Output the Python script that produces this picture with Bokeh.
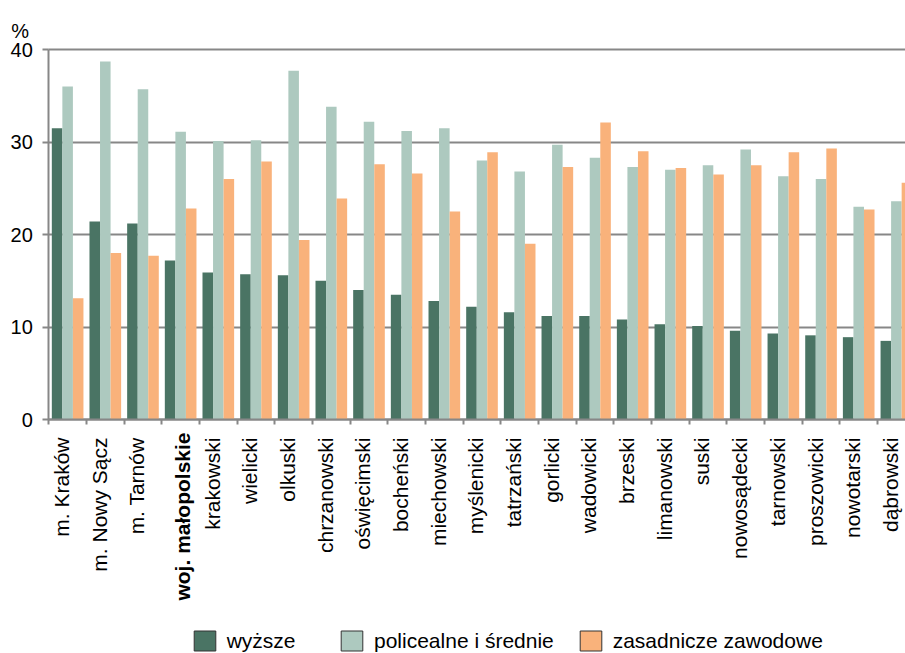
import math
import numpy as np
from bokeh.plotting import figure
from bokeh.models import (Range1d, FixedTicker, Label, Legend, LegendItem, Grid)
from bokeh.embed import file_html
from bokeh.resources import INLINE

# ---- data ----
categories = ["m. Kraków", "m. Nowy Sącz", "m. Tarnów", "woj. małopolskie", "krakowski",
              "wielicki", "olkuski", "chrzanowski", "oświęcimski", "bocheński", "miechowski",
              "myślenicki", "tatrzański", "gorlicki", "wadowicki", "brzeski", "limanowski",
              "suski", "nowosądecki", "tarnowski", "proszowicki", "nowotarski", "dąbrowski"]
bold_category = "woj. małopolskie"
wyzsze = [31.5, 21.4, 21.2, 17.2, 15.9, 15.7, 15.6, 15.0, 14.0, 13.5, 12.8, 12.2,
          11.6, 11.2, 11.2, 10.8, 10.3, 10.1, 9.6, 9.3, 9.1, 8.9, 8.5]
policealne = [36.0, 38.7, 35.7, 31.1, 30.1, 30.2, 37.7, 33.8, 32.2, 31.2, 31.5, 28.0,
              26.8, 29.7, 28.3, 27.3, 27.0, 27.5, 29.2, 26.3, 26.0, 23.0, 23.6]
zasadnicze = [13.1, 18.0, 17.7, 22.8, 26.0, 27.9, 19.4, 23.9, 27.6, 26.6, 22.5, 28.9,
              19.0, 27.3, 32.1, 29.0, 27.2, 26.5, 27.5, 28.9, 29.3, 22.7, 25.6]
series_names = ["wyższe", "policealne i średnie", "zasadnicze zawodowe"]
y_ticks = [0, 10, 20, 30, 40]

# ---- style / layout ----
FONT = "Liberation Sans"
C_DARK = "#4A7464"
C_LIGHT = "#ADC9BF"
C_ORANGE = "#F9B27B"
GRID = "#878787"
W, H = 905, 653
X0_PX, Y0_PX = 48.3, 419.0      # pixel position of the data origin
PX_X, PX_Y = 37.67, 9.25        # pixels per unit
x_start, x_end = -X0_PX / PX_X, (W - X0_PX) / PX_X
y_start, y_end = -(H - Y0_PX) / PX_Y, Y0_PX / PX_Y

n = len(categories)
centers = np.arange(n) + 0.5
bw = 0.28

p = figure(width=W, height=H, output_backend="svg", toolbar_location=None,
           title=None, x_range=Range1d(x_start, x_end), y_range=Range1d(y_start, y_end),
           min_border=0)
p.outline_line_color = None
p.background_fill_color = "white"
p.border_fill_color = "white"

series = [wyzsze, policealne, zasadnicze]
colors = [C_DARK, C_LIGHT, C_ORANGE]
offsets = [-bw, 0.0, bw]
for vals, col, off in zip(series, colors, offsets):
    p.vbar(x=centers + off, top=vals, width=bw, bottom=0, fill_color=col, line_color=None)

# x axis at y = 0
xa = p.xaxis[0]
xa.fixed_location = 0
xa.bounds = (0, x_end)
label_pos = [float(c) - 0.16 for c in centers]
xa.ticker = FixedTicker(ticks=label_pos, minor_ticks=list(range(n)))
xa.major_label_overrides = {pos: ("" if lab == bold_category else lab)
                            for pos, lab in zip(label_pos, categories)}
xa.major_label_orientation = math.pi / 2
xa.major_label_text_font = FONT
xa.major_label_text_font_size = "21px"
xa.major_label_text_color = "black"
xa.major_label_standoff = 13
xa.major_tick_out = 0
xa.major_tick_in = 0
xa.minor_tick_out = 5
xa.minor_tick_in = 0
xa.minor_tick_line_color = GRID
xa.minor_tick_line_width = 2
xa.axis_line_color = GRID
xa.axis_line_width = 2

# y axis at x = 0
ya = p.yaxis[0]
ya.fixed_location = 0
ya.bounds = (0, 40)
ya.ticker = FixedTicker(ticks=y_ticks, minor_ticks=[])
ya.major_label_text_font = FONT
ya.major_label_text_font_size = "20px"
ya.major_label_text_color = "black"
ya.major_label_standoff = 10
ya.major_tick_out = 6
ya.major_tick_in = 0
ya.major_tick_line_color = GRID
ya.major_tick_line_width = 2
ya.axis_line_color = GRID
ya.axis_line_width = 2

p.xgrid.visible = False
p.ygrid.grid_line_color = GRID
p.ygrid.grid_line_width = 2
if "cross_bounds" in Grid.properties():
    p.ygrid.cross_bounds = (0, x_end)
else:
    p.quad(left=x_start, right=0, bottom=-0.5, top=41, fill_color="white", line_color=None)

# bold category label (same row as axis labels)
bi = categories.index(bold_category)
p.add_layout(Label(x=centers[bi] + 0.04, y=-1.405, text=bold_category, angle=math.pi / 2,
                   text_align="right", text_baseline="alphabetic", text_font=FONT,
                   text_font_size="21px", text_font_style="bold", text_color="black"))

# unit label
p.add_layout(Label(x=-0.998, y=41.98, text="%", text_align="left", text_baseline="alphabetic",
                   text_font=FONT, text_font_size="20px", text_color="black"))

# legends: hidden proxy renderers (with outline) carrying the legend swatches
leg_x = [190.7, 338.0, 576.7]
for name, col, lx, vals, off in zip(series_names, colors, leg_x, series, offsets):
    r = p.vbar(x=centers + off, top=vals, width=bw, fill_color=col,
               line_color="#333333", line_width=1, visible=False)
    leg = Legend(items=[LegendItem(label=name, renderers=[r])], location=(lx, 0),
                 orientation="horizontal", padding=0, margin=0, spacing=0,
                 border_line_color=None, background_fill_alpha=0,
                 inactive_fill_alpha=0, click_policy="none",
                 glyph_width=27, glyph_height=25, label_height=25, label_standoff=9,
                 label_text_font=FONT, label_text_font_size="21px", label_text_color="black")
    p.add_layout(leg)

open("out.html", "w").write(file_html(p, INLINE))
